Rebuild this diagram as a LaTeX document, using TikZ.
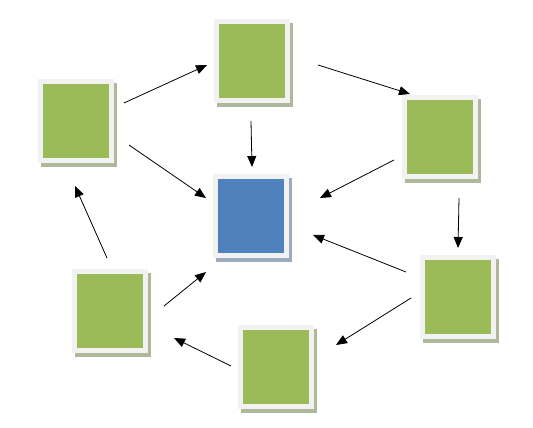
\documentclass[tikz,border=0pt]{standalone}
\usetikzlibrary{arrows.meta,shadows}
\definecolor{tilegreen}{HTML}{9BBB59}
\definecolor{tileblue}{HTML}{4F81BD}
\definecolor{tileframe}{HTML}{F2F2F2}
\definecolor{greenshade}{HTML}{AEB89A}
\definecolor{blueshade}{HTML}{9DABBE}
\tikzset{
  tile/.style 2 args={fill=tileframe, inner sep=0pt, minimum width=76pt, minimum height=84pt,
    drop shadow={shadow xshift=3pt, shadow yshift=-4pt, opacity=1, fill=#2},
    path picture={\fill[#1] ([xshift=5pt,yshift=-5pt]path picture bounding box.north west)
      rectangle ([xshift=-5pt,yshift=5pt]path picture bounding box.south east);}},
  arr/.style={-{Triangle[length=11pt,width=9pt]}, line width=0.8pt}
}
\begin{document}
\begin{tikzpicture}[x=1pt, y=-1pt]
      \useasboundingbox (0,0) rectangle (533,428);
      \node[tile={tilegreen}{greenshade}] (lt) at (76,121) {};
      \node[tile={tilegreen}{greenshade}] (t) at (252,61) {};
      \node[tile={tileblue}{blueshade}] (c) at (251,216) {};
      \node[tile={tilegreen}{greenshade}] (rt) at (440,137) {};
      \node[tile={tilegreen}{greenshade}] (rb) at (458,297) {};
      \node[tile={tilegreen}{greenshade}] (b) at (276,367) {};
      \node[tile={tilegreen}{greenshade}] (lb) at (110,311) {};
%       outer ring
      \draw[arr] ([xshift=48pt,yshift=18pt]lt.center) -- ([xshift=-45pt,yshift=-4pt]t.center);
      \draw[arr] ([xshift=66pt,yshift=-4pt]t.center) -- ([xshift=-30pt,yshift=43pt]rt.center);
      \draw[arr] ([xshift=19pt,yshift=-61pt]rt.center) -- ([xshift=0pt,yshift=49pt]rb.center);
      \draw[arr] ([xshift=-47pt,yshift=-1pt]rb.center) -- ([xshift=60pt,yshift=22pt]b.center);
      \draw[arr] ([xshift=-45pt,yshift=1pt]b.center) -- ([xshift=64pt,yshift=-27pt]lb.center);
      \draw[arr] ([xshift=-3pt,yshift=53pt]lb.center) -- ([xshift=-1pt,yshift=-65pt]lt.center);
%       into the middle
      \draw[arr] ([xshift=-1pt,yshift=-60pt]t.center) -- ([xshift=1pt,yshift=49pt]c.center);
      \draw[arr] ([xshift=53pt,yshift=-24pt]lt.center) -- ([xshift=-45pt,yshift=18pt]c.center);
      \draw[arr] ([xshift=-46pt,yshift=-23pt]rt.center) -- ([xshift=69pt,yshift=18pt]c.center);
      \draw[arr] ([xshift=-52pt,yshift=25pt]rb.center) -- ([xshift=62pt,yshift=-19pt]c.center);
      \draw[arr] ([xshift=54pt,yshift=5pt]lb.center) -- ([xshift=-45pt,yshift=-56pt]c.center);
    \end{tikzpicture}
\end{document}
